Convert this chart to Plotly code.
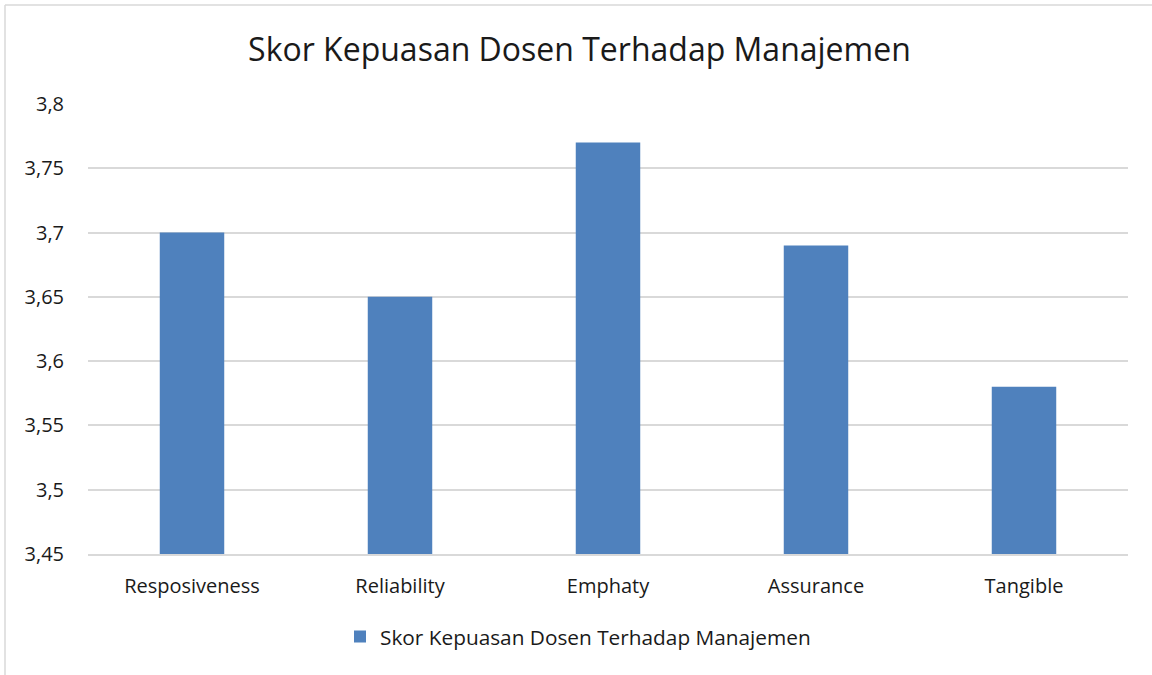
import plotly.graph_objects as go

categories = ["Resposiveness", "Reliability", "Emphaty", "Assurance", "Tangible"]
scores = [3.70, 3.65, 3.77, 3.69, 3.58]
series_name = "Skor Kepuasan Dosen Terhadap Manajemen"
title_text = "Skor Kepuasan Dosen Terhadap Manajemen"
y_tickvals = [3.45, 3.5, 3.55, 3.6, 3.65, 3.7, 3.75, 3.8]
y_ticktext = ["3,45", "3,5", "3,55", "3,6", "3,65", "3,7", "3,75", "3,8"]

FONT = "Open Sans, sans-serif"
TXT = "#1a1a1a"
GRID = "#d9d9d9"

fig = go.Figure()
fig.add_trace(go.Bar(
    x=categories, y=scores, name=series_name,
    marker=dict(color="#4f81bd", line=dict(width=0)),
    showlegend=True,
))

fig.update_layout(
    width=1152, height=675,
    margin=dict(l=88, r=24, t=104, b=121),
    paper_bgcolor="white", plot_bgcolor="white",
    separators=", ",
    font=dict(family=FONT, color=TXT, size=20),
    title=dict(text=title_text, x=0.503, xref="container", xanchor="center",
               y=1 - 50 / 675, yref="container", yanchor="middle",
               font=dict(size=32, family=FONT, color=TXT)),
    bargap=0.69,
    showlegend=True,
    legend=dict(orientation="h", x=(340 - 88) / 1040, xanchor="left",
                y=(554 - 637) / 450, yanchor="middle",
                font=dict(size=20.8, family=FONT, color=TXT), itemwidth=30,
                bgcolor="rgba(0,0,0,0)"),
    xaxis=dict(showgrid=False, showline=True, linecolor=GRID, linewidth=1.5,
               ticks="outside", ticklen=13, tickcolor="rgba(0,0,0,0)",
               tickfont=dict(size=20, family=FONT, color=TXT)),
    yaxis=dict(range=[3.45, 3.8], tickvals=y_tickvals, ticktext=y_ticktext,
               showgrid=True, gridcolor=GRID, gridwidth=1.5, zeroline=False,
               showline=False, ticks="outside", ticklen=19, tickcolor="rgba(0,0,0,0)",
               tickfont=dict(size=20, family=FONT, color=TXT)),
    shapes=[
        dict(type="line", xref="paper", yref="paper",
             x0=(5 - 88) / 1040, x1=(1152 - 88) / 1040 + 0.01,
             y0=(554 - 5) / 450, y1=(554 - 5) / 450,
             line=dict(color=GRID, width=1.5)),
        dict(type="line", xref="paper", yref="paper",
             x0=(5 - 88) / 1040, x1=(5 - 88) / 1040,
             y0=(554 - 5) / 450, y1=(554 - 680) / 450,
             line=dict(color=GRID, width=1.5)),
    ],
)

fig.write_html("out.html", config={"displayModeBar": False},
               post_script="document.body.style.margin='0';document.body.style.overflow='hidden';")
